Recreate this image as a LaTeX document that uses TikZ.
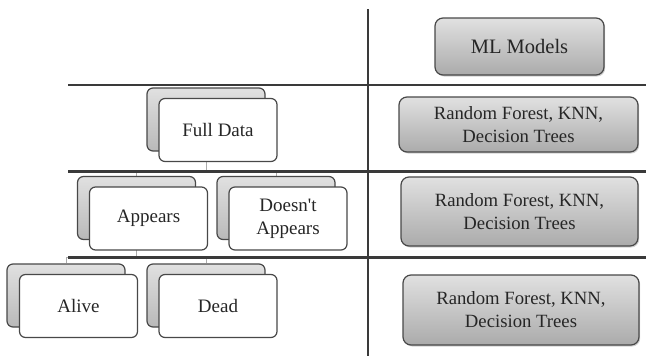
\documentclass[tikz,border=0pt]{standalone}
\usepackage{fontspec}
\setmainfont{Liberation Serif}
\usetikzlibrary{shadows,backgrounds}
\definecolor{ink}{HTML}{262626}
\definecolor{edge}{HTML}{484848}
\definecolor{rule}{HTML}{3A3A3A}
\definecolor{thin}{HTML}{ABABAB}
\tikzset{
  txt/.style={text=ink, align=center, font=\fontsize{18.7}{23}\selectfont},
  graybox/.style={txt, draw=edge, line width=1.2pt, rounded corners=8pt, inner sep=0pt,
    top color=gray!24, middle color=gray!40, bottom color=gray!66,
    drop shadow={shadow xshift=1.2pt, shadow yshift=-1.5pt, opacity=0.35}},
  treeback/.style={draw=edge, line width=1.2pt, rounded corners=6pt, inner sep=0pt,
    minimum width=118pt, minimum height=63pt, top color=gray!24, bottom color=gray!55},
  treefront/.style={txt, font=\fontsize{19}{23}\selectfont, draw=edge, line width=1.2pt,
    rounded corners=6pt, inner sep=0pt, minimum width=118pt, minimum height=63pt, fill=white},
  rulestyle/.style={draw=rule, line width=2.2pt},
  conn/.style={draw=thin, line width=0.8pt}
}
\begin{document}
\begin{tikzpicture}[x=1pt,y=-1pt]
\useasboundingbox (0,0) rectangle (646,356);

% right column boxes
\node[graybox, minimum width=169pt, minimum height=57pt, font=\fontsize{20.5}{23}\selectfont] (ml) at (519.5,46.5) {ML Models};
\node[graybox, minimum width=239pt, minimum height=55pt] (rf1) at (518.5,124.5) {Random Forest, KNN,\\Decision Trees};
\node[graybox, minimum width=237pt, minimum height=69pt] (rf2) at (519.5,211.5) {Random Forest, KNN,\\Decision Trees};
\node[graybox, minimum width=236pt, minimum height=70pt] (rf3) at (521,310) {Random Forest, KNN,\\Decision Trees};

% tree: back boxes
\node[treeback] (fdb) at (206,119.5) {};
\node[treeback] (apb) at (136.5,208) {};
\node[treeback] (dnb) at (276,208) {};
\node[treeback] (alb) at (66,295.5) {};
\node[treeback] (deb) at (206,295.5) {};
% tree: front boxes
\node[treefront] (fd) at (218,130) {Full Data};
\node[treefront] (ap) at (148.5,218.5) {Appears};
\node[treefront] (dn) at (288,218.5) {Doesn\textquotesingle t\\Appears};
\node[treefront] (al) at (78.5,306) {Alive};
\node[treefront] (de) at (218,306) {Dead};

\coordinate (j1) at (206,171.5);
\coordinate (j2) at (136.5,257.5);
\coordinate (h1a) at (68,85);
\coordinate (h1b) at (646,85);
\coordinate (h2a) at (68,171.5);
\coordinate (h2b) at (646,171.5);
\coordinate (h3a) at (68,257.5);
\coordinate (h3b) at (646,257.5);
\coordinate (vt) at (368,9);
\coordinate (vb) at (368,356);

\begin{scope}[on background layer]
  \draw[conn] (fdb.south) -- (j1);
  \draw[conn] (j1) -| (apb.north);
  \draw[conn] (j1) -| (dnb.north);
  \draw[conn] (apb.south) -- (j2);
  \draw[conn] (j2) -| (alb.north);
  \draw[conn] (j2) -| (deb.north);
  \draw[rulestyle] (h1a) -- (h1b);
  \draw[rulestyle] (h2a) -- (h2b);
  \draw[rulestyle] (h3a) -- (h3b);
  \draw[rulestyle] (vt) -- (vb);
\end{scope}
\end{tikzpicture}
\end{document}
